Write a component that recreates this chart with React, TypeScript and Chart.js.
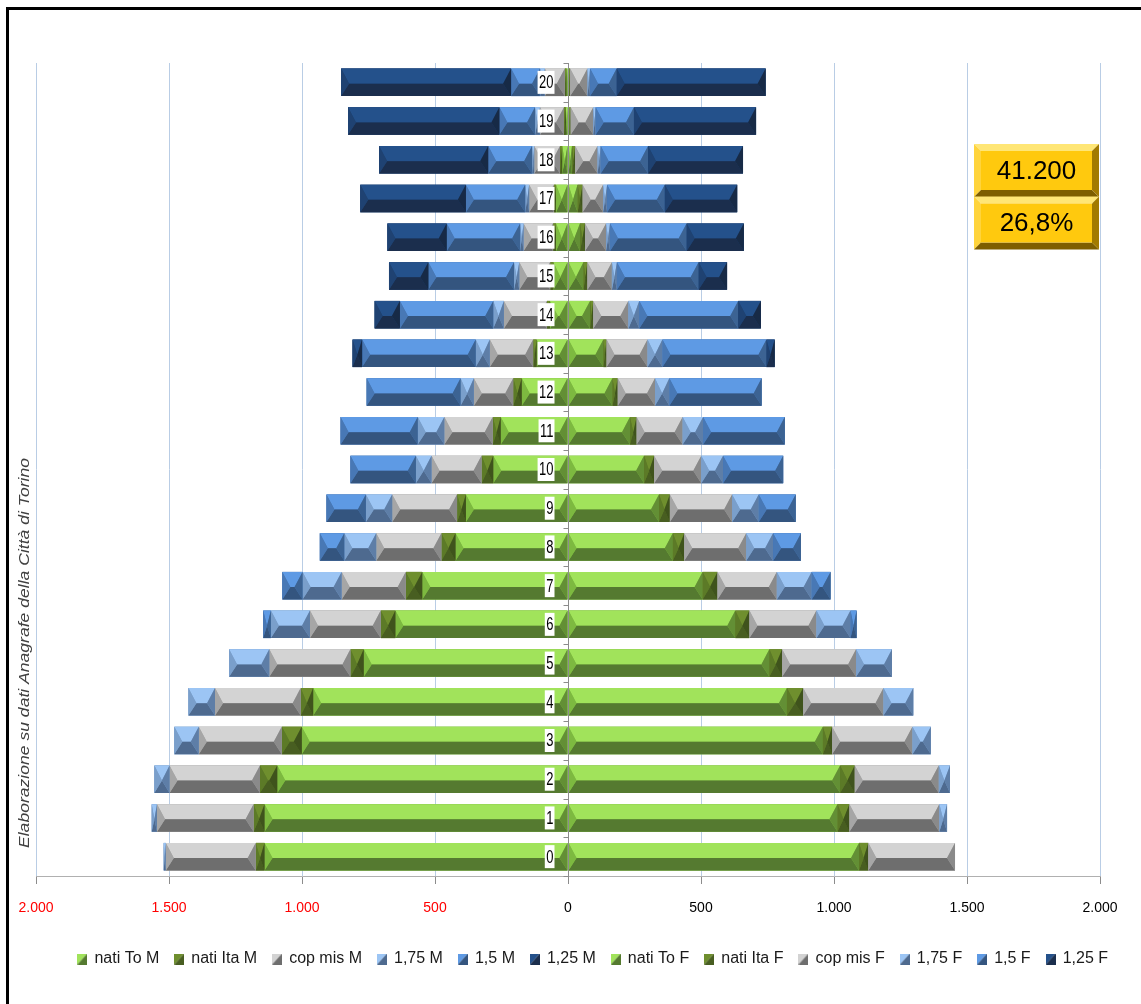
import React, { useEffect, useRef } from 'react';
import { Chart, registerables } from 'chart.js';

Chart.register(...registerables);

// ---- data (ages 0..20) ----
const ageLabels = ['0', '1', '2', '3', '4', '5', '6', '7', '8', '9', '10', '11', '12', '13', '14', '15', '16', '17', '18', '19', '20'];

const natiToM = [1141, 1141, 1093, 1001, 958, 768, 649, 548, 423, 384, 281, 253, 174, 118, 68, 55, 45, 45, 22, 8, 6];
const natiItaM = [33, 41, 65, 75, 47, 50, 55, 62, 53, 33, 44, 30, 32, 13, 11, 12, 11, 8, 8, 7, 6];
const copMisM = [338, 363, 340, 312, 322, 305, 266, 241, 245, 244, 188, 182, 148, 163, 162, 116, 111, 93, 97, 90, 75];
const m175 = [8, 20, 57, 92, 100, 151, 147, 147, 120, 99, 59, 100, 50, 53, 40, 20, 13, 15, 8, 19, 18];
const m15 = [0, 0, 0, 0, 0, 0, 29, 76, 92, 148, 246, 290, 353, 427, 351, 322, 276, 223, 165, 134, 109];
const m125 = [0, 0, 0, 0, 0, 0, 0, 0, 0, 0, 0, 0, 0, 36, 95, 148, 223, 397, 410, 569, 639];

const natiToF = [1094, 1013, 1023, 958, 823, 757, 629, 506, 394, 342, 286, 233, 167, 133, 83, 58, 45, 36, 15, 6, 5];
const natiItaF = [35, 45, 55, 35, 61, 48, 53, 56, 43, 41, 38, 25, 20, 12, 12, 15, 19, 19, 12, 4, 3];
const copMisF = [326, 338, 316, 302, 302, 278, 252, 223, 233, 234, 177, 173, 140, 154, 132, 92, 79, 77, 84, 85, 65];
const f175 = [0, 29, 42, 69, 112, 135, 128, 131, 101, 100, 82, 77, 54, 56, 41, 19, 15, 15, 12, 9, 10];
const f15 = [0, 0, 0, 0, 0, 0, 23, 71, 105, 139, 226, 307, 347, 391, 372, 307, 288, 217, 178, 144, 100];
const f125 = [0, 0, 0, 0, 0, 0, 0, 0, 0, 0, 0, 0, 0, 31, 85, 107, 215, 272, 357, 459, 560];

const maleNames = ['nati To M', 'nati Ita M', 'cop mis M', '1,75 M', '1,5 M', '1,25 M'];
const femaleNames = ['nati To F', 'nati Ita F', 'cop mis F', '1,75 F', '1,5 F', '1,25 F'];

const xMin = -2000;
const xMax = 2000;
const xStep = 500;

const totalValue = '41.200';
const shareValue = '26,8%';
const sourceNote = 'Elaborazione su dati Anagrafe della Città di Torino';

// ---- styles ----
type Pal = { top: string; bottom: string; left: string; right: string; mid: string };
const palettes: Pal[] = [
  { top: '#A1E35B', bottom: '#557A30', left: '#7DB940', right: '#638F35', mid: '#7DB940' },
  { top: '#6F8F2E', bottom: '#485E21', left: '#5C7A27', right: '#3F531C', mid: '#5C7A27' },
  { top: '#D3D3D3', bottom: '#6E6E6E', left: '#A6A6A6', right: '#8A8A8A', mid: '#A6A6A6' },
  { top: '#9CC5F4', bottom: '#4E6A8F', left: '#7A9FCB', right: '#5E7EA7', mid: '#7A9FCB' },
  { top: '#5E9AE4', bottom: '#34557F', left: '#4878B5', right: '#3C6393', mid: '#4878B5' },
  { top: '#24518B', bottom: '#1B2E4D', left: '#1F4272', right: '#172A46', mid: '#1F4272' },
];

function poly(ctx: CanvasRenderingContext2D, pts: number[][], color: string) {
  ctx.beginPath();
  ctx.moveTo(pts[0][0], pts[0][1]);
  for (let i = 1; i < pts.length; i++) ctx.lineTo(pts[i][0], pts[i][1]);
  ctx.closePath();
  ctx.fillStyle = color;
  ctx.fill();
}

function bevelBar(ctx: CanvasRenderingContext2D, x0: number, y0: number, x1: number, y1: number, p: Pal) {
  const w = x1 - x0;
  const h = y1 - y0;
  const b = Math.min(8, w / 2);
  const ym = y0 + h * 0.55;
  poly(ctx, [[x0, y0], [x1, y0], [x1, y1], [x0, y1]], p.mid);
  poly(ctx, [[x0, y0], [x1, y0], [x1 - b, ym], [x0 + b, ym]], p.top);
  poly(ctx, [[x0, y1], [x1, y1], [x1 - b, ym], [x0 + b, ym]], p.bottom);
  poly(ctx, [[x0, y0], [x0 + b, ym], [x0, y1]], p.left);
  poly(ctx, [[x1, y0], [x1 - b, ym], [x1, y1]], p.right);
}

function makeIcon(p: Pal): HTMLCanvasElement {
  const c = document.createElement('canvas');
  c.width = 10;
  c.height = 11;
  const g = c.getContext('2d')!;
  poly(g, [[0, 0], [10, 0], [0, 11]], p.top);
  poly(g, [[10, 0], [10, 11], [0, 11]], p.bottom);
  return c;
}

function fmtTick(v: number): string {
  const a = Math.abs(v);
  if (a >= 1000) return `${Math.floor(a / 1000)}.${String(a % 1000).padStart(3, '0')}`;
  return String(a);
}

export default function App() {
  const ref = useRef<HTMLCanvasElement>(null);

  useEffect(() => {
    const canvas = ref.current!;
    const maleSeries = [natiToM, natiItaM, copMisM, m175, m15, m125];
    const femaleSeries = [natiToF, natiItaF, copMisF, f175, f15, f125];
    const icons = [...palettes, ...palettes].map(makeIcon);

    const datasets = [
      ...maleSeries.map((arr, i) => ({
        label: maleNames[i],
        data: arr.map((v) => -v),
        backgroundColor: palettes[i].mid,
        borderWidth: 0,
        barPercentage: 0.71,
        categoryPercentage: 1,
      })),
      ...femaleSeries.map((arr, i) => ({
        label: femaleNames[i],
        data: arr.slice(),
        backgroundColor: palettes[i].mid,
        borderWidth: 0,
        barPercentage: 0.71,
        categoryPercentage: 1,
      })),
    ];

    const decor = {
      id: 'decor',
      afterDatasetsDraw(chart: any) {
        const ctx: CanvasRenderingContext2D = chart.ctx;
        const area = chart.chartArea;
        ctx.save();
        chart.data.datasets.forEach((_: any, di: number) => {
          const meta = chart.getDatasetMeta(di);
          if (meta.hidden) return;
          const pal = palettes[di % 6];
          meta.data.forEach((el: any) => {
            const { x, y, base, height } = el.getProps(['x', 'y', 'base', 'height'], true);
            const x0 = Math.min(x, base);
            const x1 = Math.max(x, base);
            if (x1 - x0 < 0.3) return;
            bevelBar(ctx, x0, y - height / 2, x1, y + height / 2, pal);
          });
        });
        // central axis line and category ticks
        const xs = chart.scales.x;
        const ys = chart.scales.y;
        const cx = Math.round(xs.getPixelForValue(0)) + 0.5;
        ctx.strokeStyle = '#8C8C8C';
        ctx.lineWidth = 1;
        ctx.beginPath();
        ctx.moveTo(cx, area.top);
        ctx.lineTo(cx, area.bottom + 8);
        const n = ageLabels.length;
        const rowH = (area.bottom - area.top) / n;
        for (let k = 0; k <= n; k++) {
          const yy = Math.round(area.top + k * rowH) + 0.5;
          ctx.moveTo(cx - 5, yy);
          ctx.lineTo(cx, yy);
        }
        ctx.stroke();
        // age labels with white boxes
        ctx.font = '18px "Liberation Sans", Arial, sans-serif';
        ctx.textBaseline = 'middle';
        const sx = 0.72;
        ageLabels.forEach((lab, i) => {
          const yy = ys.getPixelForValue(i);
          const w = ctx.measureText(lab).width * sx;
          const right = cx - 15;
          ctx.fillStyle = '#FFFFFF';
          ctx.fillRect(right - w - 1.5, yy - 11.5, w + 2.5, 23);
          ctx.save();
          ctx.translate(right, yy + 1);
          ctx.scale(sx, 1);
          ctx.fillStyle = '#000000';
          ctx.textAlign = 'right';
          ctx.fillText(lab, 0, 0);
          ctx.restore();
        });
        ctx.restore();
      },
      afterDraw(chart: any) {
        const ctx: CanvasRenderingContext2D = chart.ctx;
        ctx.save();
        // outer frame
        ctx.strokeStyle = '#000000';
        ctx.lineWidth = 3;
        ctx.beginPath();
        ctx.moveTo(7.5, chart.height + 5);
        ctx.lineTo(7.5, 8.5);
        ctx.lineTo(chart.width + 5, 8.5);
        ctx.stroke();
        // rotated source note
        ctx.font = 'italic 15px "Liberation Sans", Arial, sans-serif';
        const tw = ctx.measureText(sourceNote).width;
        const target = 390;
        ctx.translate(25, 848);
        ctx.rotate(-Math.PI / 2);
        ctx.scale(target / tw, 1);
        ctx.fillStyle = '#404040';
        ctx.textAlign = 'left';
        ctx.textBaseline = 'middle';
        ctx.fillText(sourceNote, 0, 0);
        ctx.restore();
        // yellow boxes
        const boxes = [
          { y: 144, text: totalValue },
          { y: 196.5, text: shareValue },
        ];
        ctx.save();
        boxes.forEach((bx) => {
          const x0 = 974, x1 = 1099, y0 = bx.y, y1 = bx.y + 53;
          const e = 7;
          poly(ctx, [[x0, y0], [x1, y0], [x1 - e, y0 + e], [x0 + e, y0 + e]], '#FFE676');
          poly(ctx, [[x0, y0], [x0 + e, y0 + e], [x0 + e, y1 - e], [x0, y1]], '#FFD43C');
          poly(ctx, [[x0, y1], [x0 + e, y1 - e], [x1 - e, y1 - e], [x1, y1]], '#7E5E00');
          poly(ctx, [[x1, y0], [x1, y1], [x1 - e, y1 - e], [x1 - e, y0 + e]], '#A27A00');
          poly(ctx, [[x0 + e, y0 + e], [x1 - e, y0 + e], [x1 - e, y1 - e], [x0 + e, y1 - e]], '#FFC90E');
          ctx.font = '26px "Liberation Sans", Arial, sans-serif';
          ctx.fillStyle = '#000000';
          ctx.textAlign = 'center';
          ctx.textBaseline = 'middle';
          ctx.fillText(bx.text, (x0 + x1) / 2, (y0 + y1) / 2 + 1);
        });
        ctx.restore();
      },
    };

    const chart = new Chart(canvas, {
      type: 'bar',
      data: { labels: ageLabels, datasets },
      options: {
        indexAxis: 'y',
        responsive: false,
        maintainAspectRatio: false,
        animation: false,
        layout: { padding: { top: 63, left: 36, right: 17, bottom: 27 } },
        scales: {
          x: {
            type: 'linear',
            stacked: true,
            min: xMin,
            max: xMax,
            ticks: {
              stepSize: xStep,
              padding: 16,
              font: { size: 14, family: '"Liberation Sans", Arial, sans-serif' },
              color: (c: any) => (c.tick && c.tick.value < 0 ? '#FF0000' : '#000000'),
              callback: (v: any) => fmtTick(Number(v)),
            },
            grid: {
              color: (c: any) => (c.tick && c.tick.value === 0 ? 'rgba(0,0,0,0)' : '#B9CDE5'),
              tickColor: '#8C8C8C',
              tickLength: 8,
              lineWidth: 1,
            },
            border: { color: '#B0B0B0', width: 1 },
            afterFit: (s: any) => {
              s.height = 59;
            },
          },
          y: {
            type: 'category',
            stacked: true,
            reverse: true,
            display: false,
          },
          gutter: {
            type: 'linear',
            position: 'right',
            display: true,
            grid: { display: false },
            ticks: { display: false },
            border: { display: false },
            afterFit: (s: any) => {
              s.width = 24;
            },
          },
        },
        plugins: {
          tooltip: { enabled: false },
          legend: {
            position: 'bottom',
            align: 'end',
            labels: {
              usePointStyle: true,
              boxWidth: 8,
              boxHeight: 11,
              padding: 16,
              color: '#1A1A1A',
              font: { size: 16, family: '"Liberation Sans", Arial, sans-serif' },
              generateLabels: (ch: any) => {
                const items = (Chart.defaults.plugins.legend.labels as any).generateLabels(ch);
                items.forEach((it: any) => {
                  it.pointStyle = icons[it.datasetIndex];
                });
                return items;
              },
            },
          },
        },
      },
      plugins: [decor],
    } as any);

    return () => chart.destroy();
  }, []);

  return (
    <div style={{ position: 'fixed', left: 0, top: 0, width: 1141, height: 1004, background: '#FFFFFF' }}>
      <canvas ref={ref} width={1141} height={1004} style={{ display: 'block', width: 1141, height: 1004 }} />
    </div>
  );
}
